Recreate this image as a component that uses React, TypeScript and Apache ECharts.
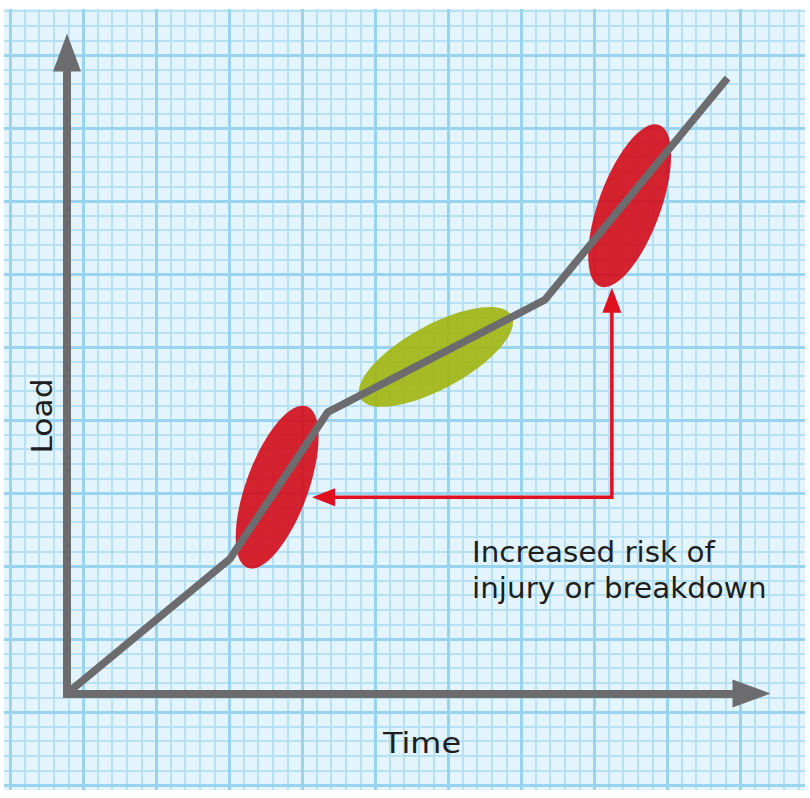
import React, { useEffect, useRef } from "react";
import * as echarts from "echarts";

// ---- data (chart units: Time 0..100, Load 0..100) ----
const loadLineTime: number[] = [0, 23.8, 38.1, 69.8, 96.5];
const loadLineLoad: number[] = [0, 21.0, 43.9, 61.4, 96.0];
const riskZoneTime: number[] = [30.7, 82.2];
const riskZoneLoad: number[] = [32.2, 76.1];
const safeZoneTime: number[] = [53.9];
const safeZoneLoad: number[] = [52.5];
const riskArrowTime: number[] = [79.6, 79.6, 35.8];
const riskArrowLoad: number[] = [63.3, 30.6, 30.6];
const annotationLines: string[] = ["Increased risk of", "injury or breakdown"];
const xTitle = "Time";
const yTitle = "Load";

// ---- styles ----
const GRAY = "#6c6c6f";
const RED = "#d3111f";
const RED_LINE = "#e0101e";
const GREEN = "#a1b614";
const PAPER_BG = "#e3f4fc";
const PAPER_MINOR = "#b6e1f4";
const PAPER_MAJOR = "#98d4f0";
const FONT = "'DejaVu Sans', sans-serif";
const TEXT = "#1e1e1e";

const zip = (a: number[], b: number[]) => a.map((v, i) => [v, b[i]]);

export default function App() {
  const ref = useRef<HTMLDivElement>(null);
  useEffect(() => {
    if (!ref.current) return;
    const chart = echarts.init(ref.current, undefined, { renderer: "svg" });

    const paperAxis = (position: string, interval: number, major: boolean) => ({
      gridIndex: 0,
      type: "value",
      min: 0,
      max: 60,
      interval,
      position,
      z: major ? 1 : 0,
      axisLine: { show: false },
      axisTick: { show: false },
      axisLabel: { show: false },
      splitLine: {
        show: true,
        lineStyle: { color: major ? PAPER_MAJOR : PAPER_MINOR, width: major ? 3 : 2 },
      },
    });

    const chartAxisLine = {
      show: true,
      onZero: false,
      symbol: ["none", "triangle"],
      symbolSize: [28, 38],
      lineStyle: { color: GRAY, width: 8, cap: "square" },
    };

    const ellipseRenderer = (rx: number, ry: number, rot: number, color: string) =>
      (params: any, api: any) => {
        const c = api.coord([api.value(0), api.value(1)]);
        return {
          type: "ellipse",
          x: c[0],
          y: c[1],
          rotation: rot,
          shape: { cx: 0, cy: 0, rx, ry },
          style: { fill: color, opacity: 0.93 },
        };
      };

    const arrowPts = zip(riskArrowTime, riskArrowLoad);

    chart.setOption({
      animation: false,
      grid: [
        {
          left: -63, top: -18, width: 876, height: 876, show: true, backgroundColor: PAPER_BG,
          borderWidth: 0, containLabel: false, outerBoundsMode: "none",
        },
        { left: 67, top: 52.5, width: 684.5, height: 641, containLabel: false, outerBoundsMode: "none" },
      ],
      xAxis: [
        paperAxis("bottom", 1, false),
        paperAxis("top", 5, true),
        {
          gridIndex: 1, type: "value", min: 0, max: 100, z: 5,
          axisLine: chartAxisLine, axisTick: { show: false }, axisLabel: { show: false }, splitLine: { show: false },
        },
      ],
      yAxis: [
        paperAxis("left", 1, false),
        paperAxis("right", 5, true),
        {
          gridIndex: 1, type: "value", min: 0, max: 100, z: 5,
          axisLine: chartAxisLine, axisTick: { show: false }, axisLabel: { show: false }, splitLine: { show: false },
        },
      ],
      series: [
        {
          type: "custom",
          xAxisIndex: 2,
          yAxisIndex: 2,
          z: 2,
          data: zip(riskZoneTime, riskZoneLoad),
          renderItem: ellipseRenderer(31, 86, -0.35, RED),
        },
        {
          type: "custom",
          xAxisIndex: 2,
          yAxisIndex: 2,
          z: 2,
          data: zip(safeZoneTime, safeZoneLoad),
          renderItem: ellipseRenderer(86, 32, 0.5, GREEN),
        },
        {
          type: "custom",
          xAxisIndex: 2,
          yAxisIndex: 2,
          z: 3,
          data: [arrowPts[1]],
          renderItem: (params: any, api: any) => {
            const pts = arrowPts.map((p) => api.coord(p));
            const head = (tip: number[], from: number[], len: number, hw: number) => {
              const dx = tip[0] - from[0];
              const dy = tip[1] - from[1];
              const d = Math.hypot(dx, dy);
              const ux = dx / d, uy = dy / d;
              const bx = tip[0] - ux * len, by = tip[1] - uy * len;
              return {
                base: [tip[0] - ux * (len - 3), tip[1] - uy * (len - 3)],
                poly: [[tip[0], tip[1]], [bx - uy * hw, by + ux * hw], [bx + uy * hw, by - ux * hw]],
              };
            };
            const h1 = head(pts[0], pts[1], 25, 9.5);
            const h2 = head(pts[2], pts[1], 23, 9);
            return {
              type: "group",
              children: [
                {
                  type: "polyline",
                  shape: { points: [h1.base, pts[1], h2.base] },
                  style: { stroke: RED_LINE, lineWidth: 3.5, fill: "none", lineJoin: "miter" },
                },
                { type: "polygon", shape: { points: h1.poly }, style: { fill: RED_LINE } },
                { type: "polygon", shape: { points: h2.poly }, style: { fill: RED_LINE } },
              ],
            };
          },
        },
        {
          type: "line",
          xAxisIndex: 2,
          yAxisIndex: 2,
          z: 4,
          data: zip(loadLineTime, loadLineLoad),
          showSymbol: false,
          symbol: "none",
          lineStyle: { color: GRAY, width: 7.5 },
        },
      ],
      graphic: [
        { type: "rect", z: 20, shape: { x: 0, y: 0, width: 810, height: 9 }, style: { fill: "#ffffff" } },
        { type: "rect", z: 20, shape: { x: 0, y: 0, width: 4, height: 798 }, style: { fill: "#ffffff" } },
        { type: "rect", z: 20, shape: { x: 805, y: 0, width: 5, height: 798 }, style: { fill: "#ffffff" } },
        { type: "rect", z: 20, shape: { x: 0, y: 790, width: 810, height: 8 }, style: { fill: "#ffffff" } },
        {
          type: "text", z: 30, x: 472, y: 553, scaleX: 1.07,
          style: { text: annotationLines[0], font: `27.5px ${FONT}`, fill: TEXT, textAlign: "left", textVerticalAlign: "middle" },
        },
        {
          type: "text", z: 30, x: 472, y: 589, scaleX: 1.07,
          style: { text: annotationLines[1], font: `27.5px ${FONT}`, fill: TEXT, textAlign: "left", textVerticalAlign: "middle" },
        },
        {
          type: "text", z: 30, x: 422, y: 743, scaleX: 1.12,
          style: { text: xTitle, font: `28.5px ${FONT}`, fill: TEXT, textAlign: "center", textVerticalAlign: "middle" },
        },
        {
          type: "text", z: 30, x: 42, y: 416, rotation: Math.PI / 2, scaleX: 1.1,
          style: { text: yTitle, font: `28.5px ${FONT}`, fill: TEXT, textAlign: "center", textVerticalAlign: "middle" },
        },
      ],
    });
    return () => chart.dispose();
  }, []);
  return <div ref={ref} style={{ position: "absolute", left: 0, top: 0, width: 810, height: 798 }} />;
}
